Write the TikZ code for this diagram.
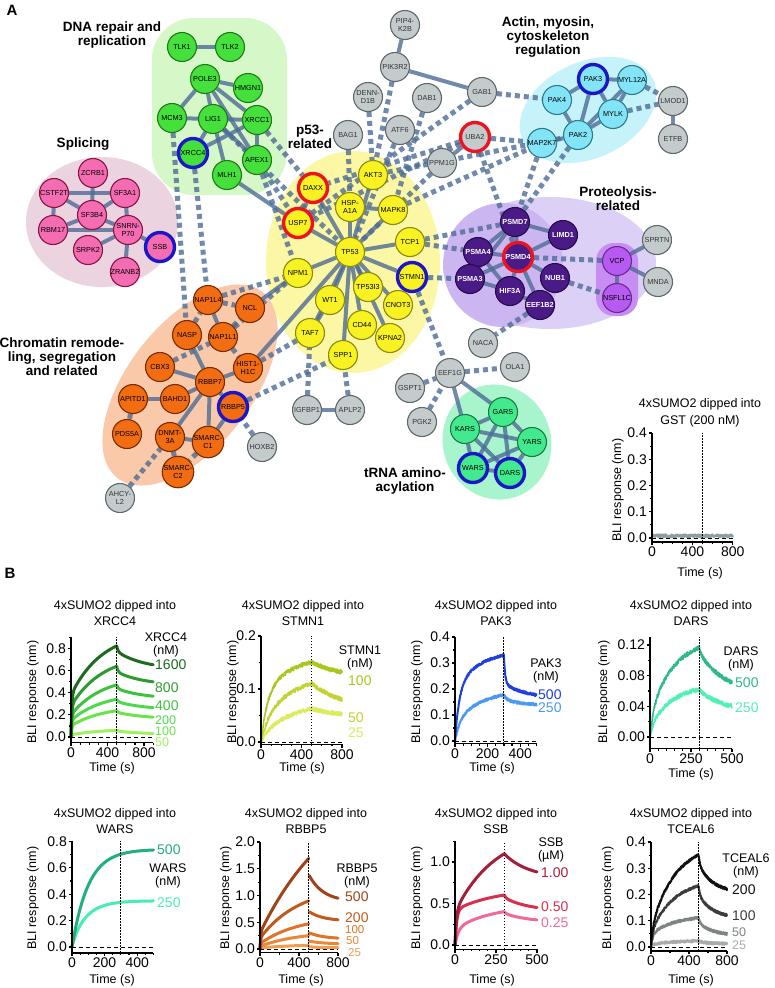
\documentclass[tikz,border=0pt]{standalone}
\usepackage{fontspec}
\setmainfont{Liberation Sans}
\pgfdeclarelayer{regions}
\pgfdeclarelayer{links}
\pgfsetlayers{regions,links,main}
% network colours
\definecolor{edge}{HTML}{4E6C96}
\definecolor{dnaF}{HTML}{45E03C}\definecolor{dnaD}{HTML}{1F7A1A}\definecolor{dnaR}{HTML}{D6F7C8}
\definecolor{spF}{HTML}{F46CB2}\definecolor{spD}{HTML}{8A1442}\definecolor{spR}{HTML}{EBD4DF}
\definecolor{chF}{HTML}{F26C12}\definecolor{chD}{HTML}{7A2C00}\definecolor{chR}{HTML}{FAC9AA}
\definecolor{pF}{HTML}{F8F222}\definecolor{pD}{HTML}{8C8A10}\definecolor{pR}{HTML}{FBF7A4}
\definecolor{gF}{HTML}{C4CBCC}\definecolor{gD}{HTML}{5F6969}
\definecolor{acF}{HTML}{82E4F6}\definecolor{acD}{HTML}{2B7C8C}\definecolor{acR}{HTML}{C6F2FA}
\definecolor{prF}{HTML}{4A1A86}\definecolor{prD}{HTML}{280A4E}\definecolor{prR}{HTML}{DDD0F6}\definecolor{prRb}{HTML}{CCB6F1}
\definecolor{vcF}{HTML}{B65AF2}\definecolor{vcD}{HTML}{6B2A92}\definecolor{vcR}{HTML}{C88DF2}
\definecolor{trF}{HTML}{42EA8E}\definecolor{trD}{HTML}{1B7A42}\definecolor{trR}{HTML}{A8F4CD}
\definecolor{ringR}{HTML}{EA1520}\definecolor{ringB}{HTML}{1C16C6}
% curve colours
\definecolor{x1600}{HTML}{1E6A1E}\definecolor{x800}{HTML}{2E9B2E}\definecolor{x400}{HTML}{3DC23D}
\definecolor{x200}{HTML}{4ED84E}\definecolor{x100}{HTML}{6BE34B}\definecolor{x50}{HTML}{A2EF62}
\definecolor{s100}{HTML}{A8C61C}\definecolor{s50}{HTML}{C3D232}\definecolor{s25}{HTML}{DDEB5A}
\definecolor{p500}{HTML}{1F3FDF}\definecolor{p250}{HTML}{4B98F0}
\definecolor{d500}{HTML}{2EB98A}\definecolor{d250}{HTML}{52F0B4}
\definecolor{w500}{HTML}{22AE80}\definecolor{w250}{HTML}{48EDB2}
\definecolor{r500}{HTML}{9E4418}\definecolor{r200}{HTML}{BF5B1D}\definecolor{r100}{HTML}{DD7429}
\definecolor{r50}{HTML}{EA8838}\definecolor{r25}{HTML}{F09E4C}
\definecolor{b100}{HTML}{A3203A}\definecolor{b50}{HTML}{D6304F}\definecolor{b25}{HTML}{EF6A9C}
\definecolor{t200}{HTML}{111111}\definecolor{t100}{HTML}{3C3C3C}\definecolor{t50}{HTML}{7E8383}\definecolor{t25}{HTML}{A9ABAB}
\definecolor{gstc}{HTML}{8C9E9E}
\tikzset{
 nd/.style={circle,minimum size=29pt,inner sep=0pt,line width=1.1pt,font=\fontsize{7.3}{7.6}\selectfont,align=center},
 dna/.style={nd,fill=dnaF,draw=dnaD},
 spl/.style={nd,fill=spF,draw=spD},
 chr/.style={nd,fill=chF,draw=chD},
 pft/.style={nd,fill=pF,draw=pD},
 gry/.style={nd,fill=gF,draw=gD,text=black!80},
 act/.style={nd,fill=acF,draw=acD},
 prt/.style={nd,fill=prF,draw=prD,text=white,font=\bfseries\fontsize{7.3}{7.6}\selectfont},
 vcp/.style={nd,fill=vcF,draw=vcD},
 trn/.style={nd,fill=trF,draw=trD},
 rred/.style={draw=ringR,line width=3.4pt},
 rblue/.style={draw=ringB,line width=3.4pt},
 sl/.style={draw=edge,line width=4pt,draw opacity=0.8},
 dl/.style={draw=edge,line width=5pt,dash pattern=on 5pt off 4pt,draw opacity=0.8},
 grp/.style={font=\bfseries\fontsize{13.5}{14}\selectfont,align=center},
 panel/.style={font=\bfseries\fontsize{15}{15}\selectfont},
 ttl/.style={font=\fontsize{12.5}{16.5}\selectfont,align=center},
 tlab/.style={font=\fontsize{14}{14}\selectfont,inner sep=1pt},
 axlab/.style={font=\fontsize{12.5}{13}\selectfont},
 lgh/.style={font=\fontsize{12.5}{13.5}\selectfont,align=center},
 lgv/.style={font=\fontsize{14}{14}\selectfont,anchor=west,inner sep=0pt},
 lgs/.style={font=\fontsize{12.5}{12.5}\selectfont,anchor=west,inner sep=0pt},
 lgt/.style={font=\fontsize{11.5}{11.5}\selectfont,anchor=west,inner sep=0pt},
 axln/.style={line width=1.2pt,black},
 zeroln/.style={line width=1pt,black,dash pattern=on 4pt off 3pt},
 dotln/.style={line width=1pt,black,dash pattern=on 1.5pt off 1.5pt},
 crv/.style={line width=3pt,line cap=round,line join=round,samples=70},
 ncrv/.style={line width=1.5pt,line join=round,samples=240},
}
\newcommand\solidlinks[1]{\foreach \a/\b in {#1}{\draw[sl] (\a) -- (\b);}}
\newcommand\dashlinks[1]{\foreach \a/\b in {#1}{\draw[dl] (\a) -- (\b);}}
% association: style, a, tf, b, ts, T
\newcommand\assoc[6]{%
 \pgfmathsetmacro\Yp{#2*(1-ex(-#6/#3))+#4*(1-ex(-#6/#5))}%
 \draw[#1] plot[domain=0:#6] (\x,{#2*(1-ex(-\x/#3))+#4*(1-ex(-\x/#5))+\nz*rand});}
% dissociation: style, j, tj, d, td, T, Tstart, Tend
\newcommand\dissoc[8]{%
 \draw[#1] plot[domain=#7:#8] (\x,{\Yp*(1-#2*(1-ex(-(\x-#6)/#3))-#4*(1-ex(-(\x-#6)/#5)))+\nz*rand});}
% frame: yb, ytop, xmax, ymajors, yminors, xmajors, xminors, tdash
\newcommand\bliframe[8]{%
 \draw[zeroln] (0,0) -- (#3,0);
 \draw[dotln] (#8,#1) -- (#8,#2);
 \draw[axln] (0,#2) -- (0,#1) -- (#3,#1);
 \foreach \v/\l [count=\i] in {#4}{\draw[axln] (0,\v) -- ++(-3.5pt,0pt) node[tlab,anchor=east] (\pn y\i) {\l};}
 \foreach \v in {#5}{\draw[axln] (0,\v) -- ++(-2pt,0pt);}
 \foreach \v/\l [count=\i] in {#6}{\draw[axln] (\v,#1) -- ++(0pt,-3.5pt) node[tlab,anchor=north] (\pn x\i) {\l};}
 \foreach \v in {#7}{\draw[axln] (\v,#1) -- ++(0pt,-2pt);}
}
\begin{document}
\begin{tikzpicture}[x=1pt,y=-1pt,declare function={ex(\u)=exp(max(\u,-9));}]
\pgfmathsetseed{7}
\useasboundingbox (0,0) rectangle (774,988);
% ---------------- regions ----------------
\begin{pgfonlayer}{regions}
 \fill[white] (0,0) rectangle (774,988);
 \fill[dnaR,rounded corners=42pt] (152,18) rectangle (287,195);
 \fill[spR] (102,222) ellipse [x radius=76pt,y radius=65pt];
 \fill[chR,rotate around={52:(190,385)}] (190,385) ellipse [x radius=118pt,y radius=62pt];
 \fill[pR] (353,262) ellipse [x radius=87pt,y radius=111pt];
 \fill[acR,rotate around={25:(588,110)}] (588,110) ellipse [x radius=72pt,y radius=48pt];
 \fill[prR] (550,263) ellipse [x radius=106pt,y radius=66pt];
 \fill[prRb] (503,265) ellipse [x radius=60pt,y radius=62pt];
 \fill[vcR,rounded corners=18pt] (596,243) rectangle (638,316);
 \fill[trR,rotate around={20:(497,442)}] (497,442) ellipse [x radius=54pt,y radius=58pt];
\end{pgfonlayer}
% ---------------- labels ----------------
\node[panel] (pA) at (12,10) {A};
\node[panel] (pB) at (10,573) {B};
\node[grp] (gDNA) at (112,35) {DNA repair and\\replication};
\node[grp] (gSPL) at (83,144) {Splicing};
\node[grp] (gP53) at (310,137) {p53-\\related};
\node[grp] (gACT) at (548,37) {Actin, myosin,\\cytoskeleton\\regulation};
\node[grp] (gPRO) at (618,199) {Proteolysis-\\related};
\node[grp] (gCHR) at (62,357) {Chromatin remode-\\ling, segregation\\and related};
\node[grp] (gTRN) at (405,481) {tRNA amino-\\acylation};
% ---------------- nodes ----------------
\node[dna] (TLK1) at (182,47) {TLK1};
\node[dna] (TLK2) at (230,47) {TLK2};
\node[dna] (POLE3) at (205,79) {POLE3};
\node[dna] (HMGN1) at (248,88) {HMGN1};
\node[dna] (MCM3) at (172,118) {MCM3};
\node[dna] (LIG1) at (213,119) {LIG1};
\node[dna] (XRCC1) at (257,120) {XRCC1};
\node[dna,rblue] (XRCC4) at (193,153) {XRCC4};
\node[dna] (APEX1) at (257,160) {APEX1};
\node[dna] (MLH1) at (227,175) {MLH1};
\node[spl] (ZCRB1) at (93,173) {ZCRB1};
\node[spl] (CSTF2T) at (54,193) {CSTF2T};
\node[spl] (SF3A1) at (125,193) {SF3A1};
\node[spl] (SF3B4) at (92,215) {SF3B4};
\node[spl] (RBM17) at (53,230) {RBM17};
\node[spl] (SNRNP70) at (128,230) {SNRN-\\P70};
\node[spl] (SRPK2) at (88,250) {SRPK2};
\node[spl,rblue] (SSB) at (160,247) {SSB};
\node[spl] (ZRANB2) at (125,272) {ZRANB2};
\node[chr] (NAP1L4) at (208,300) {NAP1L4};
\node[chr] (NCL) at (250,308) {NCL};
\node[chr] (NASP) at (187,335) {NASP};
\node[chr] (NAP1L1) at (223,337) {NAP1L1};
\node[chr] (CBX3) at (160,367) {CBX3};
\node[chr] (HIST1H1C) at (248,368) {HIST1-\\H1C};
\node[chr] (RBBP7) at (210,382) {RBBP7};
\node[chr] (APITD1) at (133,399) {APITD1};
\node[chr] (BAHD1) at (175,399) {BAHD1};
\node[chr,rblue] (RBBP5) at (233,407) {RBBP5};
\node[chr] (PDS5A) at (127,434) {PDS5A};
\node[chr] (DNMT3A) at (170,437) {DNMT-\\3A};
\node[chr] (SMARCC1) at (208,442) {SMARC-\\C1};
\node[chr] (SMARCC2) at (178,472) {SMARC-\\C2};
\node[gry] (AHCYL2) at (120,498) {AHCY-\\L2};
\node[gry] (HOXB2) at (262,447) {HOXB2};
\node[gry] (BAG1) at (348,135) {BAG1};
\node[gry] (DENND1B) at (368,97) {DENN-\\D1B};
\node[gry] (PIP4K2B) at (405,25) {PIP4-\\K2B};
\node[gry] (PIK3R2) at (395,67) {PIK3R2};
\node[gry] (DAB1) at (427,98) {DAB1};
\node[gry] (GAB1) at (482,92) {GAB1};
\node[gry] (ATF6) at (400,130) {ATF6};
\node[gry,rred] (UBA2) at (475,137) {UBA2};
\node[gry] (PPM1G) at (442,163) {PPM1G};
\node[pft] (AKT3) at (373,175) {AKT3};
\node[pft,rred] (DAXX) at (313,188) {DAXX};
\node[pft] (HSPA1A) at (350,207) {HSP-\\A1A};
\node[pft] (MAPK8) at (393,210) {MAPK8};
\node[pft,rred] (USP7) at (298,223) {USP7};
\node[pft] (TP53) at (350,252) {TP53};
\node[pft] (TCP1) at (410,242) {TCP1};
\node[pft] (NPM1) at (298,273) {NPM1};
\node[pft,rblue] (STMN1) at (412,277) {STMN1};
\node[pft] (TP53I3) at (368,287) {TP53I3};
\node[pft] (WT1) at (330,300) {WT1};
\node[pft] (CNOT3) at (398,305) {CNOT3};
\node[pft] (CD44) at (362,325) {CD44};
\node[pft] (TAF7) at (310,333) {TAF7};
\node[pft] (KPNA2) at (390,338) {KPNA2};
\node[pft] (SPP1) at (343,355) {SPP1};
\node[gry] (IGFBP1) at (307,410) {IGFBP1};
\node[gry] (APLP2) at (350,410) {APLP2};
\node[gry] (NACA) at (483,343) {NACA};
\node[gry] (EEF1G) at (450,373) {EEF1G};
\node[gry] (GSPT1) at (410,388) {GSPT1};
\node[gry] (PGK2) at (422,422) {PGK2};
\node[gry] (OLA1) at (515,367) {OLA1};
\node[trn] (GARS) at (503,412) {GARS};
\node[trn] (KARS) at (465,429) {KARS};
\node[trn] (YARS) at (532,442) {YARS};
\node[trn,rblue] (WARS) at (473,468) {WARS};
\node[trn,rblue] (DARS) at (510,473) {DARS};
\node[act,rblue] (PAK3) at (593,79) {PAK3};
\node[act] (MYL12A) at (632,80) {MYL12A};
\node[act] (PAK4) at (557,100) {PAK4};
\node[act] (MYLK) at (613,114) {MYLK};
\node[gry] (LMOD1) at (673,101) {LMOD1};
\node[gry] (ETFB) at (673,139) {ETFB};
\node[act] (PAK2) at (578,135) {PAK2};
\node[act] (MAP2K7) at (542,143) {MAP2K7};
\node[prt] (PSMD7) at (515,222) {PSMD7};
\node[prt] (LIMD1) at (563,235) {LIMD1};
\node[gry] (SPRTN) at (657,240) {SPRTN};
\node[prt,rred] (PSMD4) at (518,257) {PSMD4};
\node[prt] (PSMA4) at (478,252) {PSMA4};
\node[prt] (PSMA3) at (470,279) {PSMA3};
\node[prt] (HIF3A) at (510,291) {HIF3A};
\node[prt] (NUB1) at (555,278) {NUB1};
\node[prt] (EEF1B2) at (540,305) {EEF1B2};
\node[vcp] (VCP) at (617,261) {VCP};
\node[vcp] (NSFL1C) at (617,298) {NSFL1C};
\node[gry] (MNDA) at (658,282) {MNDA};
% ---------------- links ----------------
\begin{pgfonlayer}{links}
\solidlinks{TLK1/TLK2,POLE3/HMGN1,POLE3/MCM3,POLE3/LIG1,POLE3/XRCC1,POLE3/APEX1,MCM3/LIG1,LIG1/XRCC1,LIG1/XRCC4,LIG1/APEX1,XRCC1/APEX1,XRCC4/XRCC1,MLH1/USP7,LIG1/MLH1,
 CSTF2T/SF3A1,ZCRB1/SF3B4,CSTF2T/SF3B4,SF3A1/SF3B4,SF3A1/SNRNP70,CSTF2T/RBM17,RBM17/SF3B4,RBM17/SNRNP70,SF3B4/SNRNP70,SNRNP70/SRPK2,SNRNP70/ZRANB2,SNRNP70/SSB,
 NAP1L4/NAP1L1,NASP/RBBP7,CBX3/RBBP7,BAHD1/RBBP7,APITD1/BAHD1,RBBP7/DNMT3A,RBBP7/SMARCC1,RBBP7/RBBP5,SMARCC1/RBBP5,DNMT3A/SMARCC1,RBBP7/HIST1H1C,NCL/NPM1,HIST1H1C/TP53,
 TP53/DAXX,TP53/USP7,TP53/HSPA1A,TP53/AKT3,TP53/MAPK8,TP53/TCP1,TP53/NPM1,TP53/STMN1,TP53/TP53I3,TP53/WT1,TP53/CNOT3,TP53/CD44,TP53/KPNA2,TP53/SPP1,TP53/TAF7,DAXX/USP7,WT1/TAF7,HSPA1A/MAPK8,
 PIP4K2B/PIK3R2,PIK3R2/GAB1,UBA2/PPM1G,IGFBP1/APLP2,LMOD1/ETFB,VCP/SPRTN,VCP/MNDA,VCP/NSFL1C,EEF1G/KARS,EEF1G/GARS,
 PAK3/MYL12A,PAK3/PAK4,PAK3/PAK2,PAK3/MYLK,MYL12A/MYLK,MYL12A/PAK2,PAK4/PAK2,MYLK/PAK2,PAK2/MAP2K7,
 PSMD7/PSMA4,PSMD7/PSMD4,PSMD7/LIMD1,PSMD7/PSMA3,PSMA4/PSMD4,PSMA4/PSMA3,PSMA4/HIF3A,PSMA3/HIF3A,PSMA3/PSMD4,HIF3A/PSMD4,PSMD4/NUB1,PSMD4/EEF1B2,PSMD4/LIMD1,HIF3A/EEF1B2,
 GARS/KARS,GARS/YARS,GARS/WARS,GARS/DARS,KARS/WARS,KARS/DARS,KARS/YARS,YARS/WARS,YARS/DARS,WARS/DARS}
\dashlinks{XRCC4/NAP1L4,MCM3/NASP,XRCC1/DAXX,APEX1/USP7,LIG1/TP53,APEX1/NPM1,
 NAP1L4/NCL,NAP1L1/NCL,NAP1L1/HIST1H1C,CBX3/NAP1L1,APITD1/PDS5A,DNMT3A/SMARCC2,SMARCC1/SMARCC2,AHCYL2/DNMT3A,HOXB2/RBBP5,NAP1L4/NPM1,NAP1L1/NPM1,RBBP5/SPP1,HIST1H1C/TAF7,NASP/NAP1L4,
 BAG1/HSPA1A,PIK3R2/AKT3,DENND1B/AKT3,ATF6/TP53,DAB1/MAPK8,GAB1/PAK4,GAB1/USP7,UBA2/DAXX,UBA2/USP7,UBA2/MAP2K7,UBA2/PSMD4,PPM1G/TP53,TCP1/PSMA4,TCP1/PSMD7,STMN1/PSMA3,STMN1/EEF1G,MAPK8/MAP2K7,AKT3/PAK2,MAP2K7/PSMD7,PAK2/PSMD7,MYLK/LMOD1,MYL12A/LMOD1,
 PSMD4/VCP,NUB1/NSFL1C,EEF1B2/NACA,EEF1G/OLA1,PGK2/EEF1G,GSPT1/EEF1G,APLP2/SPP1,IGFBP1/TAF7}
\end{pgfonlayer}
% ================= panel B plots =================
% GST
\node[ttl] (tGST) at (700,413) {4xSUMO2 dipped into\\GST (200 nM)};
\node[axlab,rotate=90] (yGST) at (618,490) {BLI response (nm)};
\node[axlab] (xGST) at (700,573) {Time (s)};
\begin{scope}[shift={(652pt,-538pt)},x=0.101pt,y=262.5pt]
 \def\pn{gst}\def\nz{0.006}
 \draw[ncrv,gstc,line width=2pt] plot[domain=0:800] (\x,{0.008+\nz*rand});
 \bliframe{-0.015}{0.4}{800}{0/0.0,0.1/0.1,0.2/0.2,0.3/0.3,0.4/0.4}{0.05,0.15,0.25,0.35}{0/0,400/400,800/800}{100,200,300,500,600,700}{500}
\end{scope}
% XRCC4
\node[ttl] (tXR) at (115,613) {4xSUMO2 dipped into\\XRCC4};
\node[axlab,rotate=90] (yXR) at (33,692) {BLI response (nm)};
\node[axlab] (xXR) at (112,768) {Time (s)};
\begin{scope}[shift={(71pt,-737pt)},x=0.0913pt,y=111pt]
 \def\pn{xr}\def\nz{0}
 \assoc{crv,x50}{0.02}{8}{0.053}{350}{500}\dissoc{crv,x50}{0.1}{15}{0.5}{300}{500}{500}{900}
 \assoc{crv,x100}{0.1}{8}{0.18}{350}{500}\dissoc{crv,x100}{0.06}{15}{0.25}{300}{500}{500}{900}
 \assoc{crv,x200}{0.15}{8}{0.25}{350}{500}\dissoc{crv,x200}{0.06}{15}{0.22}{300}{500}{500}{900}
 \assoc{crv,x400}{0.2}{8}{0.355}{350}{500}\dissoc{crv,x400}{0.07}{15}{0.2}{300}{500}{500}{900}
 \assoc{crv,x800}{0.28}{8}{0.47}{350}{500}\dissoc{crv,x800}{0.08}{15}{0.19}{300}{500}{500}{900}
 \assoc{crv,x1600}{0.38}{8}{0.58}{350}{500}\dissoc{crv,x1600}{0.06}{15}{0.2}{300}{500}{500}{900}
 \bliframe{-0.05}{0.9}{900}{0/0.0,0.2/0.2,0.4/0.4,0.6/0.6,0.8/0.8}{0.1,0.3,0.5,0.7,0.9}{0/0,400/400,800/800}{100,200,300,500,600,700,900}{500}
\end{scope}
\node[lgh] (hXR) at (166,645) {XRCC4\\(nM)};
\node[lgv,text=x1600] (vXR1) at (155,665) {1600};
\node[lgv,text=x800] (vXR2) at (155,688) {800};
\node[lgv,text=x400] (vXR3) at (155,706) {400};
\node[lgs,text=x200] (vXR4) at (155,720) {200};
\node[lgs,text=x100] (vXR5) at (155,731) {100};
\node[lgs,text=x50] (vXR6) at (155,742) {50};
% STMN1
\node[ttl] (tST) at (303,613) {4xSUMO2 dipped into\\STMN1};
\node[axlab,rotate=90] (yST) at (233,692) {BLI response (nm)};
\node[axlab] (xST) at (302,768) {Time (s)};
\begin{scope}[shift={(261pt,-742pt)},x=0.1013pt,y=530pt]
 \def\pn{st}\def\nz{0.004}
 \assoc{ncrv,s25}{0.02}{80}{0.06}{400}{500}\dissoc{ncrv,s25}{0}{10}{0.25}{300}{500}{500}{800}
 \assoc{ncrv,s50}{0.05}{80}{0.085}{400}{500}\dissoc{ncrv,s50}{0}{10}{0.43}{300}{500}{500}{800}
 \assoc{ncrv,s100}{0.09}{60}{0.075}{300}{500}\dissoc{ncrv,s100}{0}{10}{0.2}{300}{500}{500}{800}
 \bliframe{-0.004}{0.2}{800}{0/0.0,0.1/0.1,0.2/0.2}{0.05,0.15}{0/0,400/400,800/800}{100,200,300,500,600,700}{500}
\end{scope}
\node[lgh] (hST) at (360,658) {STMN1\\(nM)};
\node[lgv,text=s100] (vST1) at (348,681) {100};
\node[lgv,text=s50] (vST2) at (348,718) {50};
\node[lgv,text=s25] (vST3) at (348,733) {25};
% PAK3
\node[ttl] (tPA) at (496,613) {4xSUMO2 dipped into\\PAK3};
\node[axlab,rotate=90] (yPA) at (417,692) {BLI response (nm)};
\node[axlab] (xPA) at (492,768) {Time (s)};
\begin{scope}[shift={(455pt,-741pt)},x=0.163pt,y=260pt]
 \def\pn{pa}\def\nz{0.005}
 \assoc{ncrv,p250,line width=2pt}{0.08}{30}{0.12}{180}{300}\dissoc{ncrv,p250,line width=2pt}{0.1}{15}{0.15}{150}{300}{300}{500}
 \assoc{ncrv,p500,line width=2pt}{0.2}{25}{0.15}{150}{300}\dissoc{ncrv,p500,line width=2pt}{0.33}{8}{0.18}{150}{300}{300}{500}
 \bliframe{-0.01}{0.4}{500}{0/0.0,0.1/0.1,0.2/0.2,0.3/0.3,0.4/0.4}{0.05,0.15,0.25,0.35}{0/0,200/200,400/400}{50,100,150,250,300,350,450,500}{300}
\end{scope}
\node[lgh] (hPA) at (546,671) {PAK3\\(nM)};
\node[lgv,text=p500] (vPA1) at (538,695) {500};
\node[lgv,text=p250] (vPA2) at (538,708) {250};
% DARS
\node[ttl] (tDA) at (691,613) {4xSUMO2 dipped into\\DARS};
\node[axlab,rotate=90] (yDA) at (604,692) {BLI response (nm)};
\node[axlab] (xDA) at (691,774) {Time (s)};
\begin{scope}[shift={(650pt,-737pt)},x=0.164pt,y=767pt]
 \def\pn{da}\def\nz{0.003}
 \assoc{ncrv,d250}{0.015}{20}{0.055}{150}{300}\dissoc{ncrv,d250}{0.03}{10}{0.44}{150}{300}{300}{500}
 \assoc{ncrv,d500}{0.03}{20}{0.1}{150}{300}\dissoc{ncrv,d500}{0.05}{10}{0.46}{150}{300}{300}{500}
 \bliframe{-0.015}{0.13}{500}{0/0.00,0.04/0.04,0.08/0.08,0.12/0.12}{0.02,0.06,0.10}{0/0,250/250,500/500}{50,100,150,200,300,350,400,450}{300}
\end{scope}
\node[lgh] (hDA) at (741,659) {DARS\\(nM)};
\node[lgv,text=d500] (vDA1) at (735,683) {500};
\node[lgv,text=d250] (vDA2) at (735,708) {250};
% WARS
\node[ttl] (tWA) at (115,821) {4xSUMO2 dipped into\\WARS};
\node[axlab,rotate=90] (yWA) at (33,898) {BLI response (nm)};
\node[axlab] (xWA) at (112,980) {Time (s)};
\begin{scope}[shift={(72pt,-947pt)},x=0.163pt,y=132pt]
 \def\pn{wa}\def\nz{0}
 \assoc{crv,w250}{0.03}{20}{0.32}{90}{500}
 \assoc{crv,w500}{0}{10}{0.74}{100}{500}
 \bliframe{-0.045}{0.8}{500}{0/0.0,0.2/0.2,0.4/0.4,0.6/0.6,0.8/0.8}{0.1,0.3,0.5,0.7}{0/0,200/200,400/400}{50,100,150,250,300,350,450,500}{300}
\end{scope}
\node[lgv,text=w500] (vWA1) at (157,850) {500};
\node[lgh] (hWA) at (168,876) {WARS\\(nM)};
\node[lgv,text=w250] (vWA2) at (157,903) {250};
% RBBP5
\node[ttl] (tRB) at (306,821) {4xSUMO2 dipped into\\RBBP5};
\node[axlab,rotate=90] (yRB) at (226,898) {BLI response (nm)};
\node[axlab] (xRB) at (301,980) {Time (s)};
\begin{scope}[shift={(260pt,-949pt)},x=0.0975pt,y=53.5pt]
 \def\pn{rb}\def\nz{0}
 \assoc{crv,r25}{0.02}{5}{0.07}{400}{500}\dissoc{crv,r25}{0.4}{0.5}{0.3}{150}{500}{504}{800}
 \assoc{crv,r50}{0.05}{5}{0.28}{400}{500}\dissoc{crv,r50}{0.4}{0.5}{0.23}{150}{500}{504}{800}
 \assoc{crv,r100}{0.1}{5}{0.52}{400}{500}\dissoc{crv,r100}{0.35}{0.5}{0.25}{150}{500}{504}{800}
 \assoc{crv,r200}{0.2}{5}{0.98}{400}{500}\dissoc{crv,r200}{0.22}{0.5}{0.2}{150}{500}{504}{800}
 \assoc{crv,r500}{0.3}{5}{3.0}{800}{500}\dissoc{crv,r500}{0.18}{0.5}{0.30}{150}{500}{504}{800}
 \bliframe{-0.07}{2.0}{800}{0/0.0,0.5/0.5,1.0/1.0,1.5/1.5,2.0/2.0}{0.25,0.75,1.25,1.75}{0/0,400/400,800/800}{200,600}{500}
\end{scope}
\node[lgh] (hRB) at (357,876) {RBBP5\\(nM)};
\node[lgv,text=r500] (vRB1) at (345,897) {500};
\node[lgv,text=r200] (vRB2) at (345,918) {200};
\node[lgt,text=r100] (vRB3) at (345,930) {100};
\node[lgt,text=r50] (vRB4) at (346,941) {50};
\node[lgt,text=r25] (vRB5) at (348,953) {25};
% SSB
\node[ttl] (tSS) at (496,821) {4xSUMO2 dipped into\\SSB};
\node[axlab,rotate=90] (ySS) at (417,898) {BLI response (nm)};
\node[axlab] (xSS) at (492,980) {Time (s)};
\begin{scope}[shift={(455pt,-945pt)},x=0.164pt,y=83pt]
 \def\pn{ss}\def\nz{0}
 \assoc{crv,b25}{0.2}{20}{0.29}{250}{300}\dissoc{crv,b25}{0.05}{10}{0.27}{150}{300}{300}{500}
 \assoc{crv,b50}{0.42}{10}{0.26}{250}{300}\dissoc{crv,b50}{0.05}{10}{0.27}{150}{300}{300}{500}
 \assoc{crv,b100}{0.4}{8}{1.0}{250}{300}\dissoc{crv,b100}{0}{10}{0.27}{150}{300}{300}{500}
 \bliframe{-0.05}{1.25}{500}{0/0.0,0.5/0.5,1.0/1.0}{0.25,0.75,1.25}{0/0,250/250,500/500}{50,100,150,200,300,350,400,450}{300}
\end{scope}
\node[lgh] (hSS) at (551,850) {SSB\\(µM)};
\node[lgv,text=b100] (vSS1) at (541,873) {1.00};
\node[lgv,text=b50] (vSS2) at (541,907) {0.50};
\node[lgv,text=b25] (vSS3) at (541,923) {0.25};
% TCEAL6
\node[ttl] (tTC) at (691,821) {4xSUMO2 dipped into\\TCEAL6};
\node[axlab,rotate=90] (yTC) at (608,898) {BLI response (nm)};
\node[axlab] (xTC) at (691,980) {Time (s)};
\begin{scope}[shift={(651pt,-947pt)},x=0.095pt,y=262.5pt]
 \def\pn{tc}\def\nz{0.005}
 \assoc{ncrv,t25,line width=2pt}{0.01}{20}{0.015}{250}{500}\dissoc{ncrv,t25,line width=2pt}{0.1}{15}{0.4}{150}{500}{500}{800}
 \assoc{ncrv,t50,line width=2pt}{0.05}{20}{0.07}{250}{500}\dissoc{ncrv,t50,line width=2pt}{0.15}{15}{0.46}{150}{500}{500}{800}
 \assoc{ncrv,t100,line width=2pt}{0.06}{20}{0.2}{250}{500}\dissoc{ncrv,t100,line width=2pt}{0.15}{15}{0.38}{150}{500}{500}{800}
 \assoc{ncrv,t200,line width=2pt}{0.07}{20}{0.324}{250}{500}\dissoc{ncrv,t200,line width=2pt}{0.1}{15}{0.31}{150}{500}{500}{800}
 \bliframe{-0.015}{0.4}{800}{0/0.0,0.1/0.1,0.2/0.2,0.3/0.3,0.4/0.4}{0.05,0.15,0.25,0.35}{0/0,400/400,800/800}{200,600}{500}
\end{scope}
\node[lgh] (hTC) at (746,866) {TCEAL6\\(nM)};
\node[lgv,text=t200] (vTC1) at (732,890) {200};
\node[lgv,text=t100] (vTC2) at (732,916) {100};
\node[lgs,text=t50] (vTC3) at (732,932) {50};
\node[lgs,text=t25] (vTC4) at (732,945) {25};
\end{tikzpicture}
\end{document}
